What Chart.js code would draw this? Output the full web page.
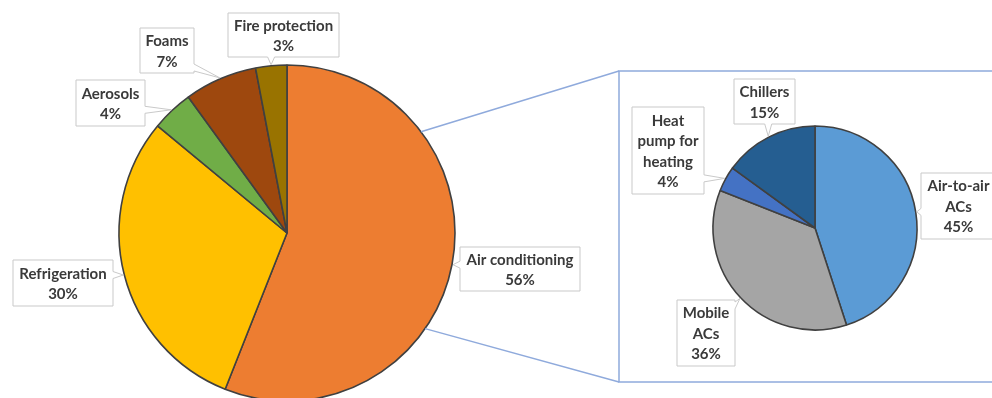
<!DOCTYPE html>
<html>
<head>
<meta charset="utf-8">
<script src="https://cdn.jsdelivr.net/npm/chart.js@4.4.0/dist/chart.umd.min.js"></script>
<style>
  html, body { margin:0; padding:0; background:#fff; }
  #wrap { position:relative; width:992px; height:398px; overflow:hidden; }
  #wrap canvas { position:absolute; left:0; top:0; }
</style>
</head>
<body>
<div id="wrap">
  <canvas id="mainPie" width="992" height="398"></canvas>
  <canvas id="subPie" width="992" height="398"></canvas>
</div>
<script>
// ---------- DATA ----------
const mainLabels = ["Air conditioning", "Refrigeration", "Aerosols", "Foams", "Fire protection"];
const mainValues = [56, 30, 4, 7, 3];
const mainColors = ["#ED7D31", "#FFC000", "#70AD47", "#9E480E", "#997300"];

const subLabels = ["Air-to-air ACs", "Mobile ACs", "Heat pump for heating", "Chillers"];
const subValues = [45, 36, 4, 15];
const subColors = ["#5B9BD5", "#A5A5A5", "#4472C4", "#255E91"];

// how the label text wraps in the callouts
const mainLabelLines = [["Air conditioning"], ["Refrigeration"], ["Aerosols"], ["Foams"], ["Fire protection"]];
const subLabelLines  = [["Air-to-air", "ACs"], ["Mobile", "ACs"], ["Heat", "pump for", "heating"], ["Chillers"]];

// ---------- LAYOUT ----------
// callout boxes [x, y, w, h]
const mainBoxes = [[460,247,120,44],[13,260,100,46],[76,80,69,46],[140,28,54,45],[228,13,111,44]];
const subBoxes  = [[921,173,75,66],[677,300,58,66],[632,107,72,87],[734,79,61,45]];
const ZOOM_BOX = { left:619, top:71, bottom:382, right:1010 };
const ZOOM_ANGLES = [52.9, 124.7]; // degrees clockwise from 12 o'clock on the big pie
const FONT = "bold 15px Lato, 'Open Sans', sans-serif";
const LINE_H = 20.5;

const clamp = (v, a, b) => Math.max(a, Math.min(b, v));

function calloutPath(ctx, b, tx, ty){
  const [x, y, w, h] = b, r = x + w, btm = y + h, ww = 7;
  const dx = tx < x ? x - tx : (tx > r ? tx - r : 0);
  const dy = ty < y ? y - ty : (ty > btm ? ty - btm : 0);
  let side = "none";
  if (dx > dy) side = tx < x ? "left" : "right";
  else if (dy > 0) side = ty < y ? "top" : "bottom";

  ctx.beginPath();
  ctx.moveTo(x, y);
  if (side === "top"){
    const c = clamp(tx - ww/2, x + 2, r - ww - 2);
    ctx.lineTo(c, y); ctx.lineTo(tx, ty); ctx.lineTo(c + ww, y);
  }
  ctx.lineTo(r, y);
  if (side === "right"){
    const c = clamp(ty - ww/2, y + 2, btm - ww - 2);
    ctx.lineTo(r, c); ctx.lineTo(tx, ty); ctx.lineTo(r, c + ww);
  }
  ctx.lineTo(r, btm);
  if (side === "bottom"){
    const c = clamp(tx - ww/2, x + 2, r - ww - 2);
    ctx.lineTo(c + ww, btm); ctx.lineTo(tx, ty); ctx.lineTo(c, btm);
  }
  ctx.lineTo(x, btm);
  if (side === "left"){
    const c = clamp(ty - ww/2, y + 2, btm - ww - 2);
    ctx.lineTo(x, c + ww); ctx.lineTo(tx, ty); ctx.lineTo(x, c);
  }
  ctx.closePath();
}

// callout labels, pointing at the middle of each slice's rim
const calloutPlugin = {
  id: "callouts",
  afterDatasetsDraw(chart, args, opts){
    const ctx = chart.ctx;
    const meta = chart.getDatasetMeta(0);
    const values = chart.data.datasets[0].data;
    meta.data.forEach((arc, i) => {
      const { x, y, startAngle, endAngle, outerRadius } =
        arc.getProps(["x","y","startAngle","endAngle","outerRadius"], true);
      const mid = (startAngle + endAngle) / 2;
      const tx = x + Math.cos(mid) * (outerRadius + 1);
      const ty = y + Math.sin(mid) * (outerRadius + 1);
      const b = opts.boxes[i];
      ctx.save();
      calloutPath(ctx, b, tx, ty);
      ctx.fillStyle = "#ffffff";
      ctx.fill();
      ctx.strokeStyle = "#c9c9c9";
      ctx.lineWidth = 1;
      ctx.stroke();
      const lines = [...opts.lines[i], values[i] + "%"];
      ctx.fillStyle = "#3a3a3a";
      ctx.font = FONT;
      ctx.textAlign = "center";
      ctx.textBaseline = "middle";
      const cx = b[0] + b[2] / 2;
      const y0 = b[1] + b[3] / 2 - (lines.length - 1) * LINE_H / 2;
      lines.forEach((t, k) => ctx.fillText(t, cx, y0 + k * LINE_H + 1));
      ctx.restore();
    });
  }
};

// frame round the second pie and the two lines that join it to the big one
const zoomFramePlugin = {
  id: "zoomFrame",
  afterDatasetsDraw(chart){
    const ctx = chart.ctx;
    const arc = chart.getDatasetMeta(0).data[0];
    const { x, y, outerRadius } = arc.getProps(["x","y","outerRadius"], true);
    const pt = deg => {
      const a = (deg - 90) * Math.PI / 180;
      return [x + Math.cos(a) * outerRadius, y + Math.sin(a) * outerRadius];
    };
    const [ax, ay] = pt(ZOOM_ANGLES[0]);
    const [bx, by] = pt(ZOOM_ANGLES[1]);
    ctx.save();
    ctx.strokeStyle = "#8FAADC";
    ctx.lineWidth = 1.5;
    ctx.beginPath();
    ctx.moveTo(ax, ay); ctx.lineTo(ZOOM_BOX.left, ZOOM_BOX.top);
    ctx.moveTo(bx, by); ctx.lineTo(ZOOM_BOX.left, ZOOM_BOX.bottom);
    ctx.stroke();
    ctx.strokeRect(ZOOM_BOX.left, ZOOM_BOX.top, ZOOM_BOX.right - ZOOM_BOX.left, ZOOM_BOX.bottom - ZOOM_BOX.top);
    ctx.restore();
  }
};

function pieOptions(padding, boxes, lines){
  return {
    responsive: false,
    animation: false,
    events: [],
    layout: { padding },
    plugins: {
      legend: { display: false },
      tooltip: { enabled: false },
      callouts: { boxes, lines }
    }
  };
}

// big pie: centre (287,233), radius 168
new Chart(document.getElementById("mainPie"), {
  type: "pie",
  data: {
    labels: mainLabels,
    datasets: [{
      data: mainValues,
      backgroundColor: mainColors,
      borderColor: "#404040",
      borderWidth: 1.6,
      radius: 168
    }]
  },
  options: pieOptions({ left:0, right:418, top:68, bottom:0 }, mainBoxes, mainLabelLines),
  plugins: [zoomFramePlugin, calloutPlugin]
});

// small pie: centre (815,228), radius 102
new Chart(document.getElementById("subPie"), {
  type: "pie",
  data: {
    labels: subLabels,
    datasets: [{
      data: subValues,
      backgroundColor: subColors,
      borderColor: "#404040",
      borderWidth: 1.6,
      radius: 102
    }]
  },
  options: pieOptions({ left:638, right:0, top:58, bottom:0 }, subBoxes, subLabelLines),
  plugins: [calloutPlugin]
});
</script>
</body>
</html>
